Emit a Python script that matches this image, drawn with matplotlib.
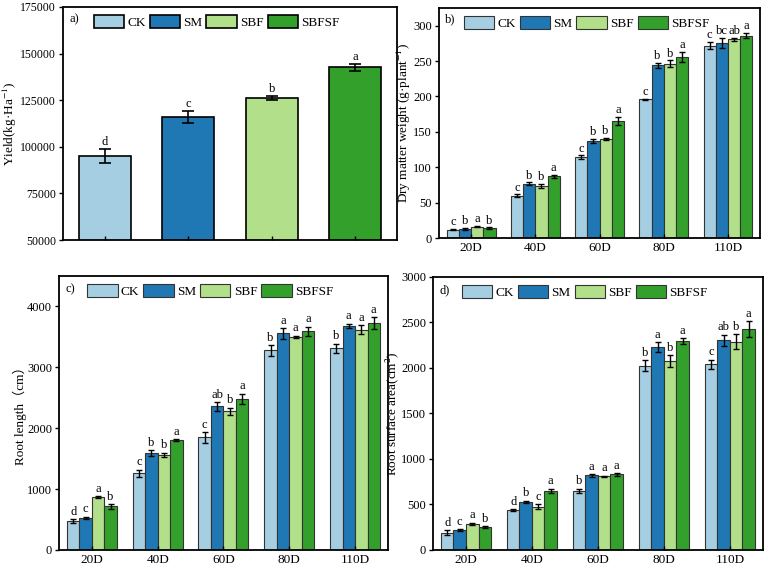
import numpy as np
import matplotlib
matplotlib.use("Agg")
import matplotlib.pyplot as plt

plt.rcParams['font.family'] = ['Liberation Serif', 'Noto Sans CJK SC']
plt.rcParams['mathtext.fontset'] = 'stix'
plt.rcParams['font.size'] = 9

treatments = ["CK", "SM", "SBF", "SBFSF"]
colors = ["#a6cee3", "#1f78b4", "#b2df8a", "#33a02c"]
days = ["20D", "40D", "60D", "80D", "110D"]

# a) yield
yield_mean = [95000, 116100, 126200, 142700]
yield_err = [3600, 3300, 1000, 1900]
yield_sig = ["d", "c", "b", "a"]

# b) dry matter weight, rows = treatments, cols = days
dmw_mean = [[12, 60, 114, 196, 272],
            [13, 77, 137, 244, 276],
            [16, 74, 140, 246, 281],
            [14, 87, 165, 256, 286]]
dmw_err = [[1, 1.5, 3, 1, 5],
           [1, 1.5, 3, 4, 7],
           [1, 3, 2, 5, 2],
           [1, 2.5, 6, 7, 4]]
dmw_sig = [["c", "c", "c", "c", "c"],
           ["b", "b", "b", "b", "bc"],
           ["a", "b", "b", "b", "ab"],
           ["b", "a", "a", "a", "a"]]

# c) root length
rl_mean = [[480, 1260, 1850, 3280, 3310],
           [530, 1590, 2360, 3560, 3680],
           [865, 1560, 2280, 3500, 3620],
           [720, 1800, 2480, 3590, 3730]]
rl_err = [[30, 60, 90, 90, 80],
          [20, 50, 70, 90, 40],
          [15, 40, 60, 20, 70],
          [40, 15, 90, 80, 100]]
rl_sig = [["d", "c", "c", "b", "b"],
          ["c", "b", "ab", "a", "a"],
          ["a", "b", "b", "a", "a"],
          ["b", "a", "a", "a", "a"]]

# d) root surface area
rsa_mean = [[190, 440, 650, 2025, 2040],
            [220, 530, 820, 2230, 2305],
            [285, 475, 810, 2075, 2290],
            [255, 650, 830, 2295, 2430]]
rsa_err = [[25, 10, 25, 60, 50],
           [10, 10, 15, 55, 60],
           [15, 25, 5, 65, 85],
           [10, 25, 15, 30, 85]]
rsa_sig = [["d", "d", "b", "b", "c"],
           ["c", "b", "a", "a", "ab"],
           ["a", "c", "a", "b", "b"],
           ["b", "a", "a", "a", "a"]]

fig = plt.figure(figsize=(7.67, 5.69), dpi=100)
ax_a = fig.add_axes([0.0821, 0.5782, 0.4355, 0.4095])
ax_b = fig.add_axes([0.5724, 0.5817, 0.4185, 0.4042])
ax_c = fig.add_axes([0.0769, 0.0334, 0.4289, 0.4815])
ax_d = fig.add_axes([0.5645, 0.0334, 0.4302, 0.4798])


def style(ax, tag, ysize=9):
    for s in ax.spines.values():
        s.set_linewidth(1.3)
    ax.tick_params(axis='y', direction='out', length=3, width=1, pad=2, labelsize=ysize)
    ax.tick_params(axis='x', direction='in', length=3, width=1, pad=3, labelsize=9.5)
    ax.text(0.02, 0.975, tag, transform=ax.transAxes, ha='left', va='top', fontsize=9)


def legend(ax):
    ax.legend(loc='upper center', bbox_to_anchor=(0.46, 1.0), ncol=4, frameon=False,
              fontsize=9.5, handlelength=2.3, handleheight=1.1,
              handletextpad=0.25, columnspacing=0.3, borderaxespad=0.2)


# panel a
x = np.arange(len(treatments))
bars = ax_a.bar(x, yield_mean, width=0.62, color=colors, edgecolor='black',
                linewidth=1.2)
ax_a.errorbar(x, yield_mean, yerr=yield_err, fmt='none', ecolor='black',
              elinewidth=1.2, capsize=4, capthick=1.2)
for xi, m, e, s in zip(x, yield_mean, yield_err, yield_sig):
    ax_a.text(xi, m + e + 600, s, ha='center', va='bottom', fontsize=9)
for b, t in zip(bars, treatments):
    b.set_label(t)
ax_a.set_xlim(-0.5, 3.5)
ax_a.set_ylim(50000, 175000)
ax_a.set_yticks(np.arange(50000, 175001, 25000))
ax_a.set_xticks(x)
ax_a.set_xticklabels([])
ax_a.set_ylabel("Yield(kg·Ha$^{-1}$)", fontsize=9.5, labelpad=1)
style(ax_a, "a)", ysize=8.5)
legend(ax_a)


def grouped(ax, mean, err, sig, ylim, yticks, ylabel, tag, off):
    gx = np.arange(len(days))
    w = 0.19
    for i, t in enumerate(treatments):
        pos = gx + (i - 1.5) * w
        ax.bar(pos, mean[i], width=w, color=colors[i], edgecolor='#333333',
               linewidth=0.8, label=t)
        ax.errorbar(pos, mean[i], yerr=err[i], fmt='none', ecolor='black',
                    elinewidth=1, capsize=2.5, capthick=1)
        for p, m, e, s in zip(pos, mean[i], err[i], sig[i]):
            ax.text(p, m + e + off, s, ha='center', va='bottom', fontsize=9)
    ax.set_xlim(-0.5, len(days) - 0.5)
    ax.set_ylim(*ylim)
    ax.set_yticks(yticks)
    ax.set_xticks(gx)
    ax.set_xticklabels(days)
    ax.set_ylabel(ylabel, fontsize=9.5, labelpad=0)
    style(ax, tag)
    legend(ax)


grouped(ax_b, dmw_mean, dmw_err, dmw_sig, (0, 325), np.arange(0, 301, 50),
        "Dry matter weight (g·plant$^{-1}$)", "b)", 1)
grouped(ax_c, rl_mean, rl_err, rl_sig, (0, 4500), np.arange(0, 4001, 1000),
        "Root length（cm）", "c)", 20)
grouped(ax_d, rsa_mean, rsa_err, rsa_sig, (0, 3000), np.arange(0, 3001, 500),
        "Root surface area(cm$^{2}$)", "d)", 15)

fig.savefig("out.png", dpi=100)
